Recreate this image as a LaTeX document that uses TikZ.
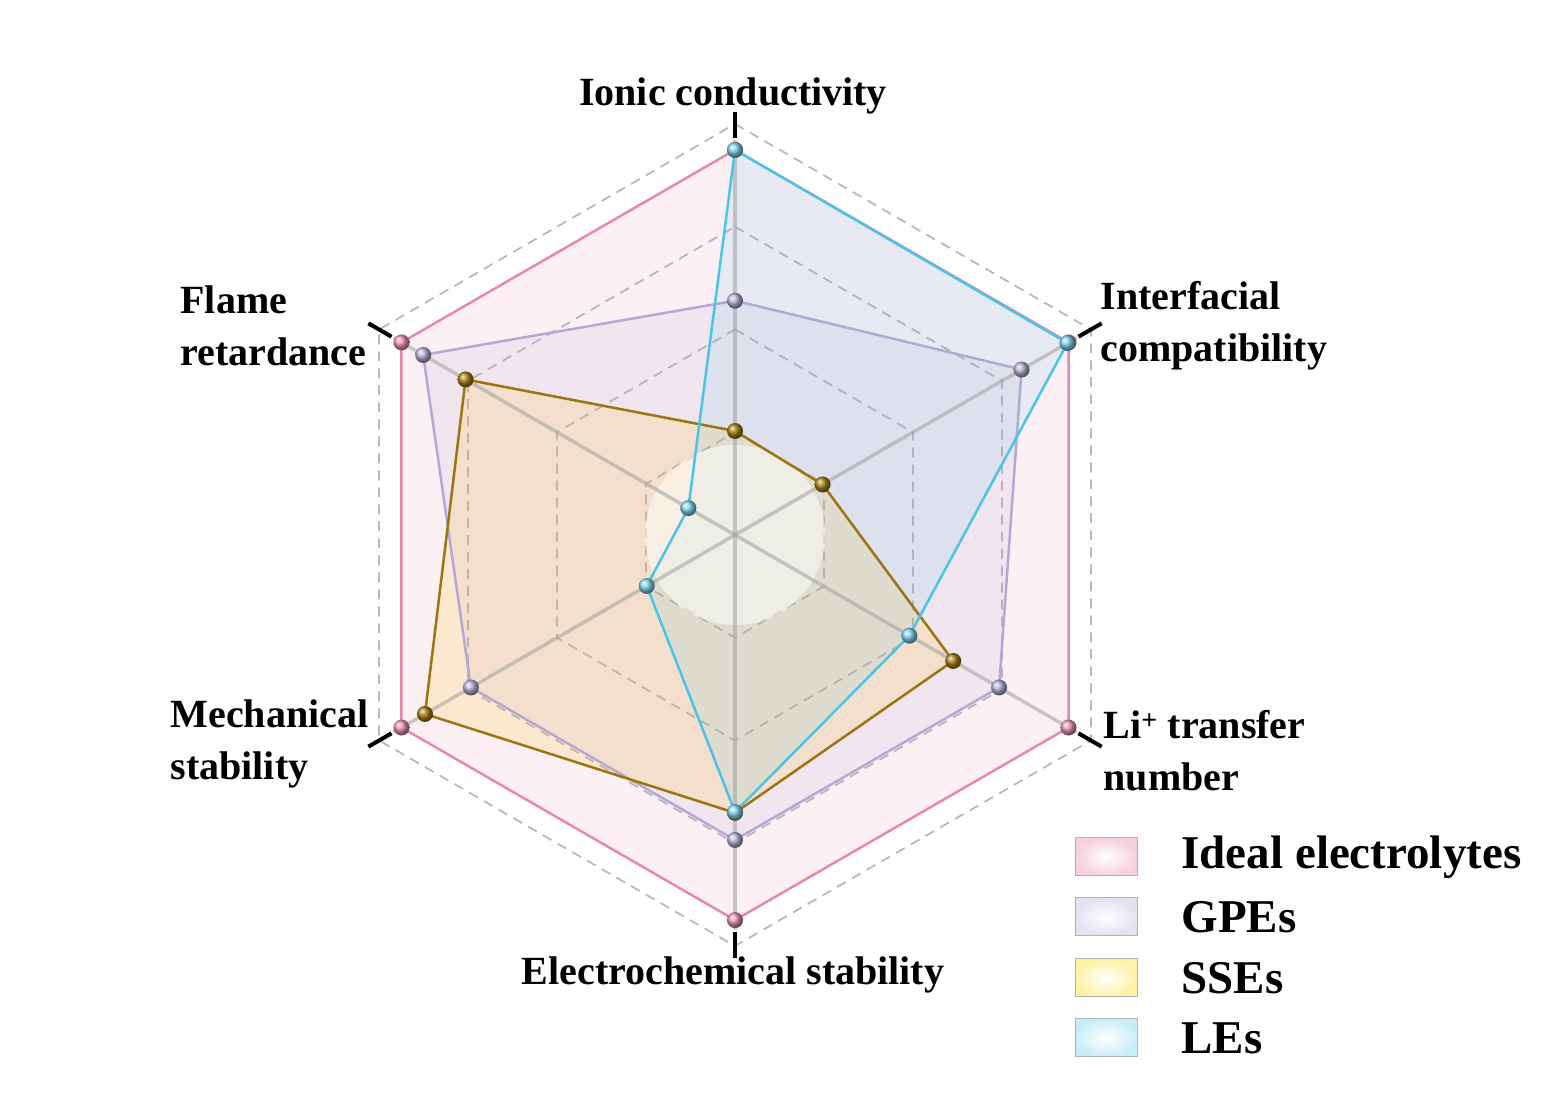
\documentclass[tikz,border=0pt]{standalone}
\usepackage{fontspec}
\setmainfont{Liberation Serif}
\usetikzlibrary{calc}
\begin{document}
\begin{tikzpicture}[x=1pt,y=1pt,
  lab/.style={font=\fontsize{40}{52}\selectfont\bfseries,align=left},
  leg/.style={font=\fontsize{47}{52}\selectfont\bfseries,anchor=west},
  ball/.style={circle,inner sep=0pt,minimum size=16pt,ball color=#1},
  legbox/.style={draw=gray!60,line width=1pt,minimum width=62pt,minimum height=38pt,inner sep=0pt}]
\definecolor{cpink}{HTML}{E889A8}
\definecolor{cgpe}{HTML}{B3A9D4}
\definecolor{cgold}{HTML}{9C7410}
\definecolor{cblue}{HTML}{4CC3E8}
\useasboundingbox (0,0) rectangle (1556,1097);
\coordinate (O) at (735,562);
\def\R{411}
\foreach \f in {0.25,0.5,0.75,1} {
  \draw[gray!55,dash pattern=on 10pt off 7pt,line width=1.8pt]
    ($(O)+(90:\f*\R)$) foreach \a in {30,-30,-90,-150,150} {-- ($(O)+(\a:\f*\R)$)} -- cycle;
}
\def\poly#1#2#3#4#5#6{($(O)+(90:#1*\R)$) -- ($(O)+(30:#2*\R)$) -- ($(O)+(-30:#3*\R)$) -- ($(O)+(-90:#4*\R)$) -- ($(O)+(-150:#5*\R)$) -- ($(O)+(150:#6*\R)$) -- cycle}
\fill[cpink,opacity=0.13] \poly{0.937}{0.937}{0.937}{0.937}{0.937}{0.937};
\fill[cgpe,opacity=0.15] \poly{0.57}{0.805}{0.742}{0.742}{0.742}{0.876};
\fill[orange!50!yellow,opacity=0.15] \poly{0.253}{0.246}{0.613}{0.676}{0.871}{0.757};
\fill[cblue,opacity=0.12] \poly{0.937}{0.934}{0.49}{0.674}{0.248}{0.131};
\fill[white,opacity=0.5] (O) circle (90);
\foreach \a in {90,30,-30,-90,-150,150} {
  \draw[gray!70,line width=3.5pt,opacity=0.6] (O) -- ($(O)+(\a:0.96*\R)$);
  \draw[black,line width=4pt] ($(O)+(\a:0.965*\R)$) -- ($(O)+(\a:1.03*\R)$);
}
\draw[cpink,line width=2.5pt] \poly{0.937}{0.937}{0.937}{0.937}{0.937}{0.937};
\draw[cgpe,line width=2.5pt] \poly{0.57}{0.805}{0.742}{0.742}{0.742}{0.876};
\draw[cgold,line width=2.5pt] \poly{0.253}{0.246}{0.613}{0.676}{0.871}{0.757};
\draw[cblue,line width=2.5pt] \poly{0.937}{0.934}{0.49}{0.674}{0.248}{0.131};
\foreach \a/\f [count=\i] in {90/0.937,30/0.937,-30/0.937,-90/0.937,-150/0.937,150/0.937}
  \node[ball=cpink!90!white] (p\i) at ($(O)+(\a:\f*\R)$) {};
\foreach \a/\f [count=\i] in {90/0.57,30/0.805,-30/0.742,-90/0.742,-150/0.742,150/0.876}
  \node[ball=cgpe!90!white] (g\i) at ($(O)+(\a:\f*\R)$) {};
\foreach \a/\f [count=\i] in {90/0.253,30/0.246,-30/0.613,-90/0.676,-150/0.871,150/0.757}
  \node[ball=cgold!90!yellow] (s\i) at ($(O)+(\a:\f*\R)$) {};
\foreach \a/\f [count=\i] in {90/0.937,30/0.934,-30/0.49,-90/0.674,-150/0.248,150/0.131}
  \node[ball=cblue!70!white] (l\i) at ($(O)+(\a:\f*\R)$) {};
\node[lab] (t1) at (733,1001) {Ionic conductivity};
\node[lab,anchor=west] (t2) at (1097,771) {Interfacial\\compatibility};
\node[lab,anchor=west] (t3) at (1100,346) {Li\textsuperscript{+} transfer\\number};
\node[lab] (t4) at (733,122) {Electrochemical stability};
\node[lab,anchor=west] (t5) at (167,353) {Mechanical\\stability};
\node[lab,anchor=west] (t6) at (177,771) {Flame\\retardance};
\node[legbox,inner color=white,outer color=cpink!40] (b1) at (1106,240) {};
\node[legbox,inner color=white,outer color=cgpe!35] (b2) at (1106,180) {};
\node[legbox,inner color=white,outer color=orange!30!yellow!35] (b3) at (1106,119) {};
\node[legbox,inner color=white,outer color=cblue!30] (b4) at (1106,59) {};
\node[leg] (e1) at (1178,240) {Ideal electrolytes};
\node[leg] (e2) at (1178,180) {GPEs};
\node[leg] (e3) at (1178,119) {SSEs};
\node[leg] (e4) at (1178,59) {LEs};
\end{tikzpicture}
\end{document}
